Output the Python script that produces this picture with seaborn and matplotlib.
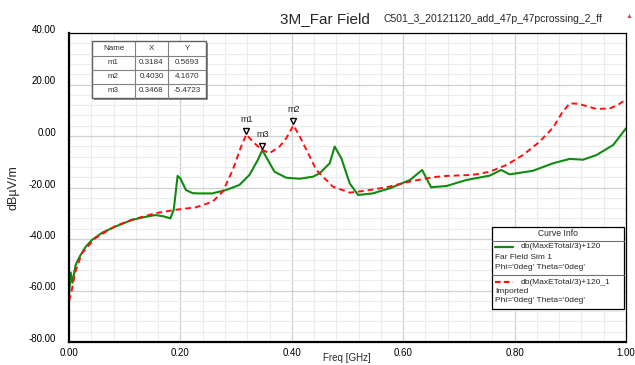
# 3M_Far Field - reproduccion del grafico de HFSS con seaborn
import numpy as np
import matplotlib
matplotlib.use("Agg")
import matplotlib.pyplot as plt
import matplotlib.patches as mpatches
import matplotlib.transforms as mtransforms
from matplotlib.lines import Line2D
from matplotlib.ticker import MultipleLocator, FormatStrFormatter
import pandas as pd
import seaborn as sns

# Datos
freq_sim = [0.000, 0.003, 0.006, 0.012, 0.020, 0.030, 0.041, 0.060, 0.083, 0.113,
            0.135, 0.155, 0.170, 0.182, 0.188, 0.195, 0.200, 0.210, 0.222, 0.234,
            0.257, 0.282, 0.306, 0.324, 0.339, 0.347, 0.357, 0.369, 0.390, 0.414,
            0.438, 0.450, 0.468, 0.477, 0.489, 0.504, 0.519, 0.545, 0.576, 0.612,
            0.634, 0.650, 0.678, 0.713, 0.755, 0.776, 0.791, 0.833, 0.869, 0.899,
            0.923, 0.947, 0.977, 1.000]
db_sim = [-62.0, -53.0, -57.0, -50.0, -46.5, -43.0, -40.4, -37.5, -35.2, -32.6,
          -31.5, -30.7, -31.2, -32.0, -28.7, -15.5, -16.5, -21.0, -22.2, -22.3,
          -22.3, -21.0, -19.0, -15.1, -9.3, -5.5, -9.3, -13.9, -16.2, -16.6,
          -15.8, -14.5, -10.6, -4.1, -8.7, -18.4, -22.9, -22.3, -20.3, -17.1,
          -13.2, -19.9, -19.4, -17.1, -15.4, -13.2, -14.9, -13.5, -10.6, -8.9,
          -9.2, -7.4, -3.5, 3.0]

freq_imp = [0.000, 0.004, 0.011, 0.023, 0.047, 0.083, 0.113, 0.155, 0.190, 0.228,
            0.258, 0.276, 0.294, 0.309, 0.3184, 0.330, 0.345, 0.360, 0.378, 0.390,
            0.4030, 0.415, 0.430, 0.444, 0.474, 0.504, 0.534, 0.570, 0.612, 0.653,
            0.678, 0.725, 0.755, 0.785, 0.815, 0.845, 0.870, 0.885, 0.899, 0.915,
            0.947, 0.971, 0.985, 1.000]
db_imp = [-64.0, -61.0, -53.0, -45.6, -39.7, -35.0, -32.5, -30.0, -28.7, -27.7,
          -25.5, -21.6, -13.2, -4.1, 0.57, -2.2, -5.2, -6.7, -4.1, -0.9,
          4.17, -0.5, -7.0, -13.2, -19.7, -22.0, -21.2, -19.9, -17.7, -16.0,
          -15.5, -15.1, -13.9, -11.3, -7.4, -2.2, 3.5, 9.0, 12.7, 12.5,
          10.5, 10.7, 12.0, 14.2]

marker_names = ['m1', 'm2', 'm3']
marker_x = [0.3184, 0.4030, 0.3468]
marker_y = [0.5693, 4.1670, -5.4723]

sim_name = 'db(MaxETotal/3)+120'
imp_name = 'db(MaxETotal/3)+120_1'

sns.set_style('white')
plt.rcParams['font.family'] = ['Liberation Sans', 'DejaVu Sans']

W, H = 635, 365
def fx(px):
    return px / W
def fy(py):
    return 1 - py / H

fig = plt.figure(figsize=(6.35, 3.65), dpi=100)
ax = fig.add_axes([fx(69), fy(342), (626 - 69) / W, (342 - 33) / H])

df_sim = pd.DataFrame({'freq': freq_sim, 'db': db_sim})
df_imp = pd.DataFrame({'freq': freq_imp, 'db': db_imp})
sns.lineplot(data=df_sim, x='freq', y='db', color='#108a10', lw=1.5, ax=ax)
sns.lineplot(data=df_imp, x='freq', y='db', color='#ff1010', lw=1.4, ax=ax)
ax.lines[-1].set_dashes([3, 2])

# Marcadores m1, m2, m3
tri = mtransforms.offset_copy(ax.transData, fig=fig, y=4, units='dots')
lab = mtransforms.offset_copy(ax.transData, fig=fig, y=11, units='dots')
for n, mx, my in zip(marker_names, marker_x, marker_y):
    ax.plot(mx, my, marker='v', ms=5, mfc='white', mec='black', mew=1.0,
            transform=tri, zorder=5)
    ax.text(mx, my, n, transform=lab, fontsize=6.5, ha='center', va='bottom',
            color='#202020', zorder=5)

ax.set_xlim(0, 1)
ax.set_ylim(-80, 40)
ax.set_xlabel('')
ax.set_ylabel('')

ax.xaxis.set_major_locator(MultipleLocator(0.2))
ax.xaxis.set_minor_locator(MultipleLocator(0.04))
ax.xaxis.set_major_formatter(FormatStrFormatter('%.2f'))
yt = np.arange(-80, 41, 20)
ax.set_yticks(yt)
ax.set_yticklabels(['%.2f' % v for v in yt], va='baseline')
ax.yaxis.set_minor_locator(MultipleLocator(4))

ax.tick_params(axis='x', which='major', direction='inout', length=6, width=1,
               labelsize=7, pad=1, colors='black')
ax.tick_params(axis='x', which='minor', direction='inout', length=4, width=0.8)
ax.tick_params(axis='y', which='major', direction='out', length=28.8, width=1,
               labelsize=7, pad=-19.4, colors='black')
ax.tick_params(axis='y', which='minor', direction='inout', length=4.5, width=0.8)
for t in ax.get_yticklabels():
    t.set_y(t.get_position()[1])

ax.grid(which='major', color='#d0d0d0', lw=0.9)
ax.grid(which='minor', color='#ececec', lw=0.8)
ax.set_axisbelow(True)
for side in ['top', 'right']:
    ax.spines[side].set_color('black')
    ax.spines[side].set_linewidth(0.9)
for side in ['left', 'bottom']:
    ax.spines[side].set_color('black')
    ax.spines[side].set_linewidth(1.6)

# Titulos y etiquetas
fig.text(fx(280), fy(19), '3M_Far Field', fontsize=11, ha='left', va='center')
fig.text(fx(384), fy(19), 'C501_3_20121120_add_47p_47pcrossing_2_ff', fontsize=7.5,
         ha='left', va='center')
fig.text(fx(629), fy(17), '\u25b2', fontsize=5, color='#c85050', ha='center', va='center')
fig.text(fx(347), fy(358), 'Freq [GHz]', fontsize=7, ha='center', va='center')
fig.text(fx(14), fy(188), 'dB\u00b5V/m', fontsize=9, ha='center', va='center', rotation=90)

# Tabla de marcadores
cols = [92, 135, 168, 206]
rows = [41.5, 55.5, 69.5, 83.5, 97.5]
fig.add_artist(mpatches.Rectangle((fx(cols[0] + 2), fy(rows[-1] + 2)),
                                  (cols[-1] - cols[0]) / W, (rows[-1] - rows[0]) / H,
                                  transform=fig.transFigure, fc='#909090', ec='none', zorder=6))
fig.add_artist(mpatches.Rectangle((fx(cols[0]), fy(rows[-1])),
                                  (cols[-1] - cols[0]) / W, (rows[-1] - rows[0]) / H,
                                  transform=fig.transFigure, fc='white', ec='#606060',
                                  lw=1.0, zorder=7))
for c in cols[1:-1]:
    fig.add_artist(Line2D([fx(c), fx(c)], [fy(rows[0]), fy(rows[-1])],
                          transform=fig.transFigure, color='#808080', lw=0.8, zorder=8))
for r in rows[1:-1]:
    fig.add_artist(Line2D([fx(cols[0]), fx(cols[-1])], [fy(r), fy(r)],
                          transform=fig.transFigure, color='#808080', lw=0.8, zorder=8))
table_rows = [['Name', 'X', 'Y']] + [[n, '%.4f' % x, '%.4f' % y]
                                     for n, x, y in zip(marker_names, marker_x, marker_y)]
for i, row in enumerate(table_rows):
    yc = (rows[i] + rows[i + 1]) / 2
    for j, txt in enumerate(row):
        xc = (cols[j] + cols[j + 1]) / 2
        fig.text(fx(xc), fy(yc), txt, fontsize=5.8, ha='center', va='center',
                 color='#303030', zorder=9)

# Cuadro "Curve Info"
fig.add_artist(mpatches.Rectangle((fx(491.5), fy(309)), (624 - 491.5) / W, (309 - 227) / H,
                                  transform=fig.transFigure, fc='white', ec='black',
                                  lw=0.9, zorder=6))
for r in [240.7, 275]:
    fig.add_artist(Line2D([fx(491.5), fx(624)], [fy(r), fy(r)],
                          transform=fig.transFigure, color='#707070', lw=0.8, zorder=7))
fig.text(fx(558), fy(234), 'Curve Info', fontsize=6.2, ha='center', va='center', zorder=8)
fig.add_artist(Line2D([fx(495), fx(513)], [fy(247), fy(247)], transform=fig.transFigure,
                      color='#108a10', lw=1.6, zorder=8))
red_sample = Line2D([fx(495), fx(513)], [fy(282), fy(282)], transform=fig.transFigure,
                    color='#ff1010', lw=1.6, zorder=8)
red_sample.set_dashes([2.5, 1.5])
fig.add_artist(red_sample)
legend_texts = [(520.5, 247, sim_name), (495, 257.5, 'Far Field Sim 1'),
                (495, 267.5, "Phi='0deg' Theta='0deg'"),
                (520.5, 282, imp_name), (495, 291.5, 'Imported'),
                (495, 301, "Phi='0deg' Theta='0deg'")]
for px, py, txt in legend_texts:
    fig.text(fx(px), fy(py), txt, fontsize=6.0, ha='left', va='center', zorder=8)

fig.savefig('out.png', dpi=100)
